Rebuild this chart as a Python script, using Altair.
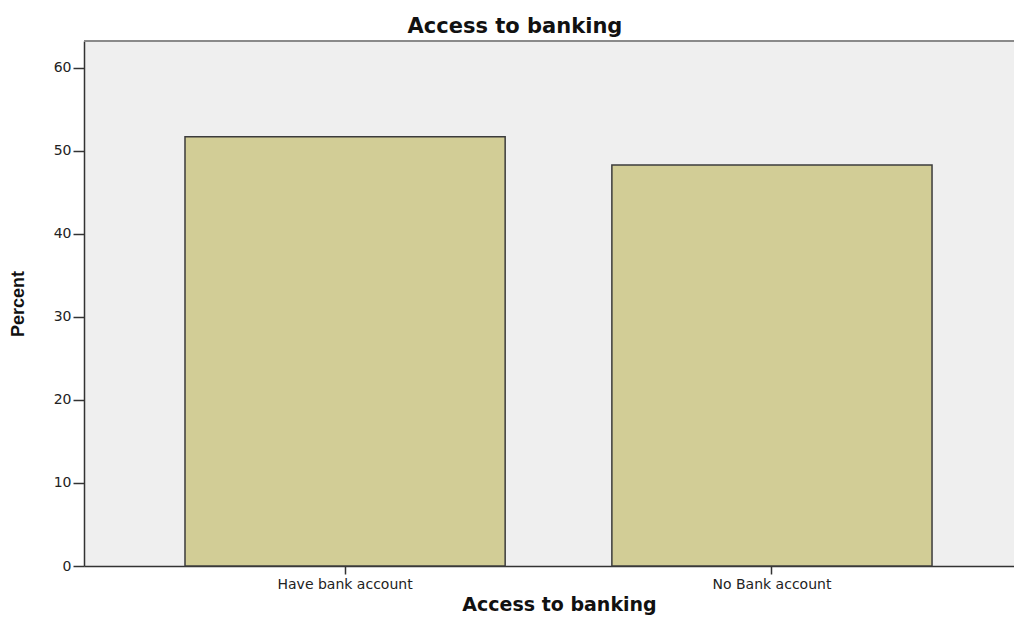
import altair as alt
import pandas as pd

categories = ["Have bank account", "No Bank account"]
percents = [51.7, 48.3]
y_ticks = [0, 10, 20, 30, 40, 50, 60]

df = pd.DataFrame({"cat": categories, "pct": percents})

W, H = 930, 525

x_enc = alt.X(
    "cat:N",
    sort=categories,
    scale=alt.Scale(paddingInner=0.25, paddingOuter=0.2143, align=0.552),
    axis=alt.Axis(
        title="Access to banking",
        labelAngle=0,
        labelFont="DejaVu Sans",
        labelFontSize=14,
        labelColor="#222222",
        labelPadding=3,
        tickSize=8,
        tickColor="#333333",
        tickWidth=1.5,
        domainColor="#333333",
        domainWidth=1.5,
        titleFont="DejaVu Sans",
        titleFontSize=19,
        titleFontWeight="bold",
        titleColor="#111111",
        titleX=475,
        titleAlign="center",
        titlePadding=4,
        grid=False,
    ),
)

y_enc = alt.Y(
    "pct:Q",
    scale=alt.Scale(domain=[0, 63.25], nice=False, zero=True),
    axis=alt.Axis(
        title="Percent",
        values=y_ticks,
        labelFont="DejaVu Sans",
        labelFontSize=14,
        labelColor="#222222",
        labelPadding=2,
        tickSize=11,
        tickColor="#333333",
        tickWidth=1.5,
        domainColor="#333333",
        domainWidth=1.5,
        titleFont="Liberation Sans",
        titleFontSize=18,
        titleFontWeight="bold",
        titleColor="#111111",
        titlePadding=26,
        grid=False,
    ),
)

bars = alt.Chart(df).mark_bar(
    color="#D2CD96", stroke="#3C3C3C", strokeWidth=1.5
).encode(x=x_enc, y=y_enc)

top_border = alt.Chart(df).mark_rule(color="#8A8A8A", strokeWidth=2).encode(
    x=alt.value(0), x2=alt.value(W), y=alt.value(0)
)

chart = (
    alt.layer(bars, top_border)
    .properties(
        width=W,
        height=H,
        autosize=alt.AutoSizeParams(type="none"),
        padding={"left": 76, "top": 33, "right": 0, "bottom": 49},
        title=alt.TitleParams(
            "Access to banking",
            font="DejaVu Sans",
            fontSize=21,
            fontWeight="bold",
            color="#111111",
            anchor="middle",
            dx=-34,
            offset=3,
        ),
        background="white",
    )
    .configure_view(fill="#EFEFEF", stroke=None)
)

chart.save("out.html", embed_options={"renderer": "svg", "actions": False})
